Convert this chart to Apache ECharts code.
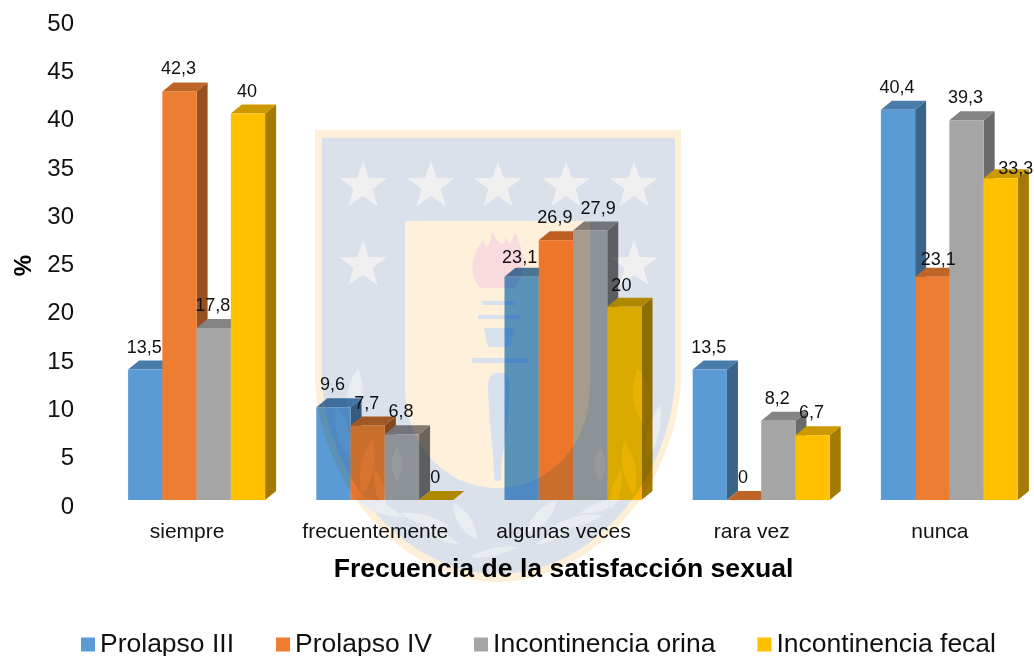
<!DOCTYPE html>
<html><head><meta charset="utf-8">
<style>html,body{margin:0;padding:0;background:#fff}#c{width:1034px;height:656px}</style>
<script src="https://cdn.jsdelivr.net/npm/echarts@6/dist/echarts.min.js"></script>
</head><body><div id="c"></div>
<script>
const categories = ['siempre','frecuentemente','algunas veces','rara vez','nunca'];
const prolapsoIII = [13.5, 9.6, 23.1, 13.5, 40.4];
const prolapsoIV = [42.3, 7.7, 26.9, 0, 23.1];
const incontinenciaOrina = [17.8, 6.8, 27.9, 8.2, 39.3];
const incontinenciaFecal = [40, 0, 20, 6.7, 33.3];
const seriesNames = ['Prolapso III','Prolapso IV','Incontinencia orina','Incontinencia fecal'];
const seriesColors = ['#5B9BD5','#ED7D31','#A5A5A5','#FFC000'];
const seriesValues = [prolapsoIII, prolapsoIV, incontinenciaOrina, incontinenciaFecal];
const FONT = '"Liberation Sans", Arial, sans-serif';

function shade(hex, k){
  const n = parseInt(hex.slice(1),16);
  const c = [n>>16, (n>>8)&255, n&255].map(v=>Math.round(v*k));
  return 'rgb('+c.join(',')+')';
}
function fmt(v){ return String(v).replace('.',','); }

// watermark (university crest) painted to an offscreen canvas, laid over the chart in multiply mode
function crest(){
  const cv = document.createElement('canvas'); cv.width=1034; cv.height=656;
  const g = cv.getContext('2d');
  function shield(l,r,t,b){
    const cx=(l+r)/2, w=r-l;
    g.beginPath(); g.moveTo(l,t); g.lineTo(r,t); g.lineTo(r,t+(b-t)*0.56);
    g.bezierCurveTo(r-w*0.02,t+(b-t)*0.80, cx+w*0.25,b, cx,b);
    g.bezierCurveTo(cx-w*0.25,b, l+w*0.02,t+(b-t)*0.80, l,t+(b-t)*0.56);
    g.closePath();
  }
  g.fillStyle='#fdefd8'; shield(315,681,130,582); g.fill();
  g.fillStyle='#dae1ea'; shield(322,675,138,574); g.fill();
  function star(x,y,R){
    g.beginPath();
    for(let i=0;i<10;i++){
      const r=i%2?R*0.4:R, a=-Math.PI/2+i*Math.PI/5;
      g.lineTo(x+r*Math.cos(a),y+r*Math.sin(a));
    }
    g.closePath(); g.fill();
  }
  g.fillStyle='#f0f0f0';
  [363,431,498,566,634].forEach(x=>star(x,186,25));
  [363,634].forEach(x=>star(x,265,25));
  // laurel leaves: lens shapes between two tips
  g.fillStyle='#e9edf2';
  function leaf(x1,y1,x2,y2,b){
    const mx=(x1+x2)/2,my=(y1+y2)/2,dx=x2-x1,dy=y2-y1,L=Math.hypot(dx,dy),nx=-dy/L*b,ny=dx/L*b;
    g.beginPath(); g.moveTo(x1,y1);
    g.quadraticCurveTo(mx+nx,my+ny,x2,y2); g.quadraticCurveTo(mx-nx,my-ny,x1,y1); g.closePath(); g.fill();
  }
  [[358,368,352,425,16],[336,405,350,460,12],[372,440,362,495,13],[397,447,397,482,11],[353,497,403,517,11],
   [375,470,385,510,9],[400,513,450,527,10],[453,503,477,540,13],[425,528,460,545,7],[470,557,517,547,8],
   [638,368,644,425,16],[660,405,646,460,12],[624,440,634,495,13],[600,447,600,482,11],[620,500,580,513,9],
   [621,470,611,510,9],[603,515,550,528,10],[557,500,527,533,13],[570,528,535,545,7]
  ].forEach(a=>leaf.apply(null,a));
  // cream panel
  g.fillStyle='#fff0dc';
  g.beginPath(); g.moveTo(405,221); g.lineTo(590,221); g.lineTo(590,385);
  g.bezierCurveTo(590,450,545,488,497,488);
  g.bezierCurveTo(450,488,405,450,405,385); g.closePath(); g.fill();
  // flame
  g.fillStyle='#f9dade';
  g.beginPath(); g.moveTo(480,288); g.bezierCurveTo(466,270,474,250,484,240);
  g.bezierCurveTo(484,250,490,250,492,232); g.bezierCurveTo(500,245,504,250,506,236);
  g.bezierCurveTo(510,250,512,240,515,232); g.bezierCurveTo(526,255,526,275,514,288); g.closePath(); g.fill();
  // torch
  g.fillStyle='#d8e2ee';
  g.fillRect(482,301,34,4); g.fillRect(478,315,42,4);
  g.beginPath(); g.moveTo(484,328); g.lineTo(515,328); g.lineTo(510,347); g.lineTo(488,347); g.closePath(); g.fill();
  g.fillRect(472,358,56,5);
  g.beginPath(); g.moveTo(488,385); g.bezierCurveTo(488,368,510,368,510,385);
  g.bezierCurveTo(510,420,502,450,501,475); g.arc(498,477,4,0,Math.PI); g.bezierCurveTo(494,450,488,420,488,385); g.closePath(); g.fill();
  return cv;
}

const BAR_RATIO = 0.182, DEPTH_X = 11, DEPTH_Y = 9, PLANE_X = 9.5, PLANE_Y = -7;
function labelNudge(s,c){
  if(s===3&&c===4) return [16,13];
  if(s===2&&c===2) return [9,1];
  if(s===0&&c===2) return [-1,3];
  if(s===1&&c===4) return [7,5];
  if(s===3&&c===2) return [-2,1];
  return [0,0];
}
function makeRender(si){
  return function(params, api){
    const c = api.value(0), v = api.value(1);
    const base = api.coord([c,0]), top = api.coord([c,v]);
    const w = api.size([1,0])[0]*BAR_RATIO;
    const x0 = base[0]+PLANE_X+(si-2)*w, x1 = x0+w;
    const yb = base[1]+PLANE_Y, yt = top[1]+PLANE_Y;
    const col = seriesColors[si];
    const n = labelNudge(si,c);
    return {type:'group',children:[
      {type:'polygon',shape:{points:[[x1,yb],[x1+DEPTH_X,yb-DEPTH_Y],[x1+DEPTH_X,yt-DEPTH_Y],[x1,yt]]},style:{fill:shade(col,0.64)}},
      {type:'polygon',shape:{points:[[x0,yt],[x1,yt],[x1+DEPTH_X,yt-DEPTH_Y],[x0+DEPTH_X,yt-DEPTH_Y]]},style:{fill:shade(col,0.8)}},
      {type:'rect',shape:{x:x0,y:yt,width:w,height:yb-yt},style:{fill:col}},
      {type:'text',z2:100,x:(x0+x1)/2-1+n[0],y:yt-22+n[1],style:{text:fmt(v),fill:'#111',font:'18px '+FONT,align:'center',verticalAlign:'middle'}}
    ]};
  };
}

const chart = echarts.init(document.getElementById('c'),null,{renderer:'canvas'});
chart.setOption({
  animation:false,
  backgroundColor:'#fff',
  grid:{left:93,width:942.5,top:24,bottom:149},
  legend:{left:81,top:631,padding:0,itemWidth:14,itemHeight:14,itemGap:42,icon:'rect',
    data:seriesNames,textStyle:{fontFamily:FONT,fontSize:26.5,color:'#111'}},
  xAxis:{type:'category',data:categories,axisLine:{show:false},axisTick:{show:false},splitLine:{show:false},
    axisLabel:{margin:15,interval:0,fontFamily:FONT,fontSize:21,color:'#111'},
    name:'Frecuencia de la satisfacción sexual',nameLocation:'middle',nameGap:49,
    nameTextStyle:{fontFamily:FONT,fontSize:26.6,fontWeight:'bold',color:'#000'}},
  yAxis:{type:'value',min:0,max:50,interval:5,axisLine:{show:false},axisTick:{show:false},splitLine:{show:false},
    axisLabel:{margin:19,padding:[4,0,0,0],fontFamily:FONT,fontSize:24,color:'#111'},
    name:'%',nameLocation:'middle',nameGap:57,nameRotate:90,
    nameTextStyle:{fontFamily:FONT,fontSize:24,fontWeight:'bold',color:'#000'}},
  series:seriesNames.map((name,si)=>({
    type:'custom',name,clip:false,
    itemStyle:{color:seriesColors[si]},
    encode:{x:0,y:1},
    data:seriesValues[si].map((v,i)=>[i,v]),
    renderItem:makeRender(si)
  })),
  graphic:[{type:'image',silent:true,z:1000,left:0,top:0,style:{image:crest(),x:0,y:0,width:1034,height:656,blend:'multiply'}}]
});
</script></body></html>
